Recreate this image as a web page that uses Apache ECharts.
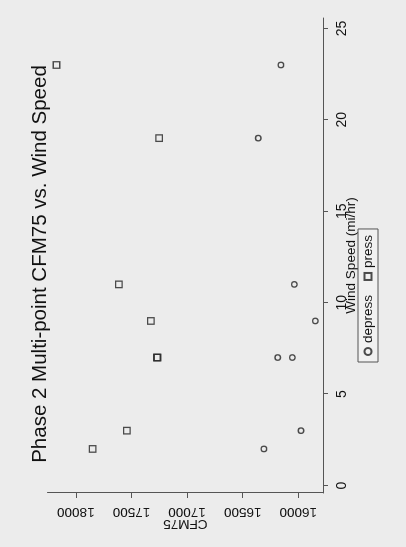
<!DOCTYPE html>
<html>
<head>
<meta charset="utf-8">
<script src="https://cdn.jsdelivr.net/npm/echarts@6/dist/echarts.min.js"></script>
<style>
html,body{margin:0;padding:0;background:#ececec;overflow:hidden;width:406px;height:547px;}
#wrap{position:absolute;left:0;top:0;width:547px;height:406px;transform-origin:0 0;transform:translate(0,547px) rotate(-90deg);}
</style>
</head>
<body>
<div id="wrap"></div>
<script>
// Data
var windDepress = [23, 19, 11, 9, 7, 7, 3, 2];
var cfmDepress  = [16156, 16360, 16036, 15847, 16185, 16054, 15976, 16309];
var windPress   = [23, 19, 11, 9, 7, 7, 3, 2];
var cfmPress    = [18174, 17251, 17613, 17325, 17272, 17266, 17541, 17850];
var windTicks = [0, 5, 10, 15, 20, 25];
var cfmTicks  = [16000, 16500, 17000, 17500, 18000];
var titleText = 'Phase 2 Multi-point CFM75 vs. Wind Speed';
var seriesNames = ['depress', 'press'];

function pairs(xs, ys){ return xs.map(function(x,i){ return [x, ys[i]]; }); }

var FONT = 'Liberation Sans, Arial, Helvetica, sans-serif';
var chart = echarts.init(document.getElementById('wrap'), null, {renderer:'canvas', width:547, height:406});
chart.setOption({
  backgroundColor: '#ececec',
  animation: false,
  textStyle: {fontFamily: FONT},
  graphic: [{
    type: 'text', x: 283, y: 40,
    style: {text: titleText, fontSize: 20.5, fontFamily: FONT, fill: '#111', textAlign: 'center', textVerticalAlign: 'middle'}
  }],
  grid: {left: 54, right: 18, top: 47.5, bottom: 83, containLabel: false},
  xAxis: {
    type: 'value', min: -0.41, max: 25.57,
    name: 'Wind Speed (mi/hr)', nameLocation: 'middle', nameGap: 21, nameMoveOverlap: false,
    nameTextStyle: {fontSize: 13.5, color: '#111', fontFamily: FONT},
    axisLine: {show: true, onZero: false, lineStyle: {color: '#555', width: 1}},
    axisTick: {show: true, length: 5, lineStyle: {color: '#555'}, customValues: windTicks},
    axisLabel: {fontSize: 14, color: '#111', margin: 12, customValues: windTicks, fontFamily: FONT},
    splitLine: {show: false}
  },
  yAxis: {
    type: 'value', min: 15778, max: 18255,
    name: 'CFM75', nameLocation: 'middle', nameGap: 24, nameRotate: 90, nameMoveOverlap: false,
    nameTextStyle: {fontSize: 13.5, color: '#111', fontFamily: FONT},
    axisLine: {show: true, onZero: false, lineStyle: {color: '#555', width: 1}},
    axisTick: {show: true, length: 5, lineStyle: {color: '#555'}, customValues: cfmTicks},
    axisLabel: {fontSize: 13.5, color: '#111', margin: 12, rotate: 90, customValues: cfmTicks, fontFamily: FONT,
      formatter: function(v){ return String(v); }},
    splitLine: {show: false}
  },
  legend: {
    left: 185, top: 358,
    orient: 'horizontal',
    itemWidth: 7, itemHeight: 7, itemGap: 14,
    padding: [3, 6, 3, 6],
    borderColor: '#555', borderWidth: 1,
    backgroundColor: '#f1f1f1',
    textStyle: {fontSize: 13.5, color: '#111', fontFamily: FONT},
    data: [
      {name: seriesNames[0], icon: 'circle'},
      {name: seriesNames[1], icon: 'rect'}
    ]
  },
  series: [
    {
      name: seriesNames[0], type: 'scatter', symbol: 'circle', symbolSize: 5.5,
      itemStyle: {color: 'rgba(0,0,0,0)', borderColor: '#222', borderWidth: 1.3},
      data: pairs(windDepress, cfmDepress)
    },
    {
      name: seriesNames[1], type: 'scatter', symbol: 'rect', symbolSize: 6.5,
      itemStyle: {color: 'rgba(0,0,0,0)', borderColor: '#222', borderWidth: 1.3},
      data: pairs(windPress, cfmPress)
    }
  ]
});
</script>
</body>
</html>
